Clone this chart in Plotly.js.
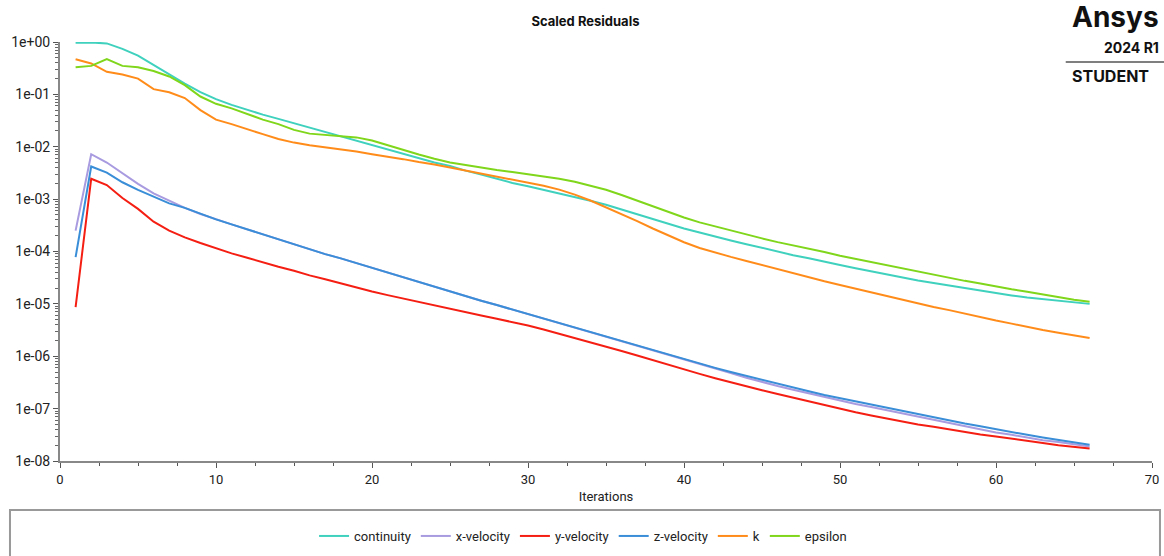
<!DOCTYPE html>
<html>
<head>
<meta charset="utf-8">
<script src="https://cdn.plot.ly/plotly-3.0.1.min.js"></script>
<style>html,body{margin:0;padding:0;background:#fff;}#chart{width:1164px;height:556px;}</style>
</head>
<body>
<div id="chart"></div>
<script>
const iterations = [1,2,3,4,5,6,7,8,9,10,11,12,13,14,15,16,17,18,19,20,21,22,23,24,25,26,27,28,29,30,31,32,33,34,35,36,37,38,39,40,41,42,43,44,45,46,47,48,49,50,51,52,53,54,55,56,57,58,59,60,61,62,63,64,65,66];

const continuity = [0.97,0.98,0.94,7.4e-1,5.5e-1,3.6e-1,2.4e-1,1.6e-1,1.1e-1,8.1e-2,
  6.3e-2,5.0e-2,4.1e-2,3.4e-2,2.8e-2,2.3e-2,1.95e-2,1.6e-2,1.3e-2,1.07e-2,
  8.9e-3,7.2e-3,6.0e-3,5.0e-3,4.3e-3,3.5e-3,2.95e-3,2.45e-3,2.04e-3,1.76e-3,
  1.51e-3,1.3e-3,1.12e-3,9.3e-4,7.8e-4,6.3e-4,5.1e-4,4.2e-4,3.4e-4,2.75e-4,
  2.3e-4,1.9e-4,1.62e-4,1.38e-4,1.17e-4,1.0e-4,8.5e-5,7.4e-5,6.3e-5,5.5e-5,
  4.8e-5,4.2e-5,3.6e-5,3.2e-5,2.8e-5,2.5e-5,2.24e-5,2.0e-5,1.78e-5,1.58e-5,
  1.45e-5,1.32e-5,1.23e-5,1.15e-5,1.07e-5,1.0e-5];

const xVelocity = [2.5e-4,7.2e-3,5.0e-3,3.1e-3,1.95e-3,1.29e-3,9.3e-4,6.8e-4,5.2e-4,4.1e-4,
  3.3e-4,2.65e-4,2.14e-4,1.7e-4,1.35e-4,1.1e-4,8.9e-5,7.4e-5,6.0e-5,4.9e-5,
  4.0e-5,3.2e-5,2.6e-5,2.14e-5,1.74e-5,1.41e-5,1.15e-5,9.5e-6,7.8e-6,6.3e-6,
  5.1e-6,4.3e-6,3.5e-6,2.9e-6,2.34e-6,1.9e-6,1.58e-6,1.29e-6,1.07e-6,8.7e-7,
  7.2e-7,5.9e-7,4.8e-7,3.9e-7,3.2e-7,2.7e-7,2.3e-7,1.95e-7,1.66e-7,1.41e-7,
  1.23e-7,1.07e-7,9.3e-8,8.1e-8,7.1e-8,6.2e-8,5.4e-8,4.7e-8,4.1e-8,3.5e-8,
  3.16e-8,2.8e-8,2.5e-8,2.3e-8,2.1e-8,1.9e-8];

const yVelocity = [8.7e-6,2.45e-3,1.86e-3,1.05e-3,6.5e-4,3.7e-4,2.5e-4,1.86e-4,1.45e-4,1.14e-4,
  9.2e-5,7.6e-5,6.2e-5,5.1e-5,4.3e-5,3.5e-5,2.95e-5,2.45e-5,2.04e-5,1.72e-5,
  1.47e-5,1.26e-5,1.08e-5,9.3e-6,8.0e-6,6.9e-6,6.0e-6,5.2e-6,4.5e-6,3.85e-6,
  3.25e-6,2.7e-6,2.25e-6,1.85e-6,1.52e-6,1.26e-6,1.03e-6,8.4e-7,6.8e-7,5.5e-7,
  4.6e-7,3.8e-7,3.16e-7,2.65e-7,2.24e-7,1.9e-7,1.62e-7,1.38e-7,1.16e-7,9.8e-8,
  8.5e-8,7.4e-8,6.5e-8,5.6e-8,5.0e-8,4.5e-8,4.0e-8,3.55e-8,3.2e-8,2.95e-8,
  2.65e-8,2.4e-8,2.2e-8,2.0e-8,1.86e-8,1.74e-8];

const zVelocity = [7.8e-5,4.2e-3,3.2e-3,2.1e-3,1.5e-3,1.1e-3,8.3e-4,6.8e-4,5.2e-4,4.1e-4,
  3.3e-4,2.65e-4,2.14e-4,1.7e-4,1.35e-4,1.1e-4,8.9e-5,7.4e-5,6.0e-5,4.9e-5,
  4.0e-5,3.2e-5,2.6e-5,2.14e-5,1.74e-5,1.41e-5,1.15e-5,9.5e-6,7.8e-6,6.3e-6,
  5.1e-6,4.3e-6,3.5e-6,2.9e-6,2.34e-6,1.9e-6,1.58e-6,1.29e-6,1.07e-6,8.7e-7,
  7.2e-7,6.0e-7,5.0e-7,4.2e-7,3.5e-7,2.95e-7,2.5e-7,2.14e-7,1.82e-7,1.58e-7,
  1.38e-7,1.2e-7,1.05e-7,9.1e-8,7.9e-8,6.9e-8,6.0e-8,5.2e-8,4.6e-8,4.1e-8,
  3.55e-8,3.16e-8,2.8e-8,2.5e-8,2.24e-8,2.04e-8];

const kResidual = [4.7e-1,3.9e-1,2.7e-1,2.4e-1,2.0e-1,1.26e-1,1.1e-1,8.5e-2,5.0e-2,3.3e-2,
  2.7e-2,2.14e-2,1.74e-2,1.41e-2,1.2e-2,1.07e-2,9.8e-3,8.9e-3,8.1e-3,7.2e-3,
  6.5e-3,5.8e-3,5.1e-3,4.6e-3,4.0e-3,3.5e-3,3.0e-3,2.6e-3,2.32e-3,2.05e-3,
  1.8e-3,1.52e-3,1.22e-3,9.4e-4,7.0e-4,5.2e-4,3.8e-4,2.75e-4,2.0e-4,1.5e-4,
  1.17e-4,9.5e-5,7.9e-5,6.6e-5,5.5e-5,4.6e-5,3.8e-5,3.2e-5,2.7e-5,2.3e-5,
  1.95e-5,1.66e-5,1.41e-5,1.2e-5,1.02e-5,8.7e-6,7.6e-6,6.5e-6,5.5e-6,4.8e-6,
  4.2e-6,3.6e-6,3.16e-6,2.8e-6,2.5e-6,2.24e-6];

const epsilon = [3.3e-1,3.5e-1,4.7e-1,3.5e-1,3.3e-1,2.8e-1,2.2e-1,1.5e-1,9.1e-2,6.6e-2,
  5.4e-2,4.2e-2,3.3e-2,2.7e-2,2.1e-2,1.78e-2,1.7e-2,1.62e-2,1.51e-2,1.32e-2,
  1.07e-2,8.7e-3,7.1e-3,5.9e-3,5.0e-3,4.5e-3,4.0e-3,3.6e-3,3.3e-3,2.98e-3,
  2.72e-3,2.45e-3,2.14e-3,1.82e-3,1.51e-3,1.2e-3,9.3e-4,7.2e-4,5.6e-4,4.45e-4,
  3.6e-4,3.0e-4,2.5e-4,2.1e-4,1.78e-4,1.51e-4,1.32e-4,1.12e-4,9.8e-5,8.3e-5,
  7.2e-5,6.3e-5,5.5e-5,4.8e-5,4.2e-5,3.6e-5,3.16e-5,2.75e-5,2.45e-5,2.14e-5,
  1.9e-5,1.7e-5,1.51e-5,1.35e-5,1.2e-5,1.1e-5];

const seriesNames = ['continuity','x-velocity','y-velocity','z-velocity','k','epsilon'];
const seriesValues = [continuity, xVelocity, yVelocity, zVelocity, kResidual, epsilon];
const seriesColors = ['#3fd1bd','#a99be0','#f51e12','#3a8ed8','#ff8c1a','#7fd61b'];

const yTickVals = [1e0,1e-1,1e-2,1e-3,1e-4,1e-5,1e-6,1e-7,1e-8];
const yTickText = ['1e+00','1e-01','1e-02','1e-03','1e-04','1e-05','1e-06','1e-07','1e-08'];
const xTickVals = [0,10,20,30,40,50,60,70];

const traces = seriesNames.map((name, i) => ({
  type: 'scatter', mode: 'lines', name: name,
  x: iterations, y: seriesValues[i],
  line: {color: seriesColors[i], width: 2}
}));

const font = 'Roboto, "Noto Sans", "DejaVu Sans", sans-serif';

const layout = {
  width: 1164, height: 556,
  margin: {l: 60, r: 12, t: 42, b: 95, autoexpand: false},
  paper_bgcolor: '#fff', plot_bgcolor: '#fff',
  font: {family: font, size: 13, color: '#222'},
  title: {text: '<b>Scaled Residuals</b>', x: 0.503, xref: 'container', xanchor: 'center', y: 0.962, yanchor: 'middle',
          font: {family: 'Inter, Roboto, sans-serif', size: 13, color: '#111'}},
  showlegend: true,
  legend: {orientation: 'h', x: 0.479, xanchor: 'center', y: -0.179, yanchor: 'middle',
           font: {family: font, size: 13, color: '#222'}, bgcolor: 'rgba(0,0,0,0)', itemwidth: 30},
  xaxis: {
    range: [0, 70], tickmode: 'array', tickvals: xTickVals,
    showgrid: false, zeroline: false, showline: true, linecolor: '#888', linewidth: 2,
    ticks: 'outside', ticklen: 5, tickcolor: '#555', tickwidth: 1,
    minor: {dtick: 2.5, ticks: 'outside', ticklen: 3, tickcolor: '#555', showgrid: false},
    tickfont: {size: 13, color: '#222'},
    title: {text: 'Iterations', font: {size: 13, color: '#222'}, standoff: 6}
  },
  yaxis: {
    type: 'log', range: [-8, 0], tickmode: 'array', tickvals: yTickVals, ticktext: yTickText,
    showgrid: false, zeroline: false, showline: true, linecolor: '#888', linewidth: 2,
    ticks: 'outside', ticklen: 5, tickcolor: '#555', tickwidth: 1,
    minor: {dtick: 'D1', ticks: 'outside', ticklen: 3, tickcolor: '#666', showgrid: false},
    tickfont: {size: 14, color: '#222'}
  },
  shapes: [
    {type: 'rect', xref: 'paper', yref: 'paper', x0: -0.0458, x1: 1.0073, y0: -0.117, y1: -0.26,
     line: {color: '#999', width: 2}, fillcolor: 'rgba(0,0,0,0)', layer: 'below'},
    {type: 'line', xref: 'paper', yref: 'paper', x0: 0.921, x1: 1.02, y0: 0.952, y1: 0.952,
     line: {color: '#555', width: 1.5}}
  ],
  annotations: [
    {text: '<b>Ansys</b>', xref: 'paper', yref: 'paper', x: 1.0085, y: 1.06, xanchor: 'right', yanchor: 'middle',
     showarrow: false, font: {family: 'Inter, Roboto, sans-serif', size: 28, color: '#111'}},
    {text: '<b>2024 R1</b>', xref: 'paper', yref: 'paper', x: 1.0085, y: 0.986, xanchor: 'right', yanchor: 'middle',
     showarrow: false, font: {family: 'Inter, Roboto, sans-serif', size: 14, color: '#111'}},
    {text: '<b>STUDENT</b>', xref: 'paper', yref: 'paper', x: 0.9245, y: 0.92, xanchor: 'left', yanchor: 'middle',
     showarrow: false, font: {family: 'Inter, Roboto, sans-serif', size: 16, color: '#111'}}
  ]
};

Plotly.newPlot('chart', traces, layout, {displayModeBar: false, staticPlot: true});
</script>
</body>
</html>
